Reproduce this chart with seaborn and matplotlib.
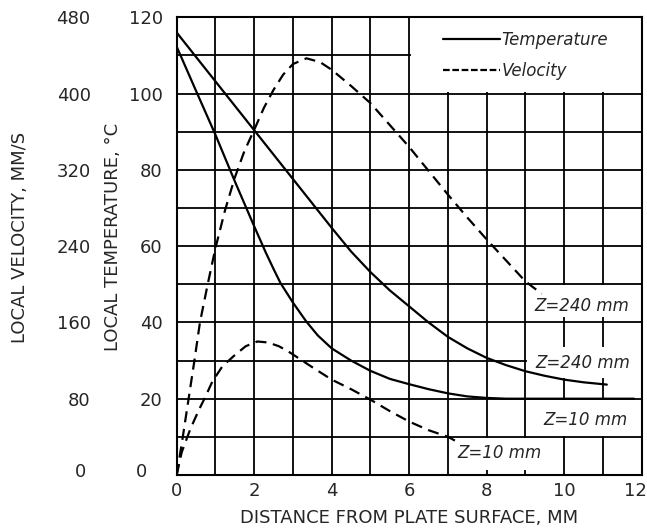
import matplotlib
matplotlib.use("Agg")
import matplotlib.pyplot as plt
import seaborn as sns
from matplotlib.lines import Line2D
from matplotlib.patches import Rectangle
from matplotlib.ticker import MultipleLocator
from matplotlib.transforms import ScaledTranslation

# ---------------- data ----------------
# Temperature, Z = 240 mm  (deg C)
t240_x = [0, 0.5, 1, 1.5, 2, 2.5, 3, 3.5, 4, 4.5, 5, 5.5, 6, 6.5, 7, 7.5, 8, 8.5, 9, 9.5, 10, 10.5, 11.1]
t240_y = [116, 109.6, 103.2, 96.8, 90.4, 84, 77.6, 71.2, 64.8, 58.6, 53.2, 48.4, 44.2, 40, 36.2, 33.2, 30.7, 28.8, 27.2, 26, 25, 24.3, 23.7]

# Temperature, Z = 10 mm  (deg C)
t10_x = [0, 0.5, 1, 1.5, 2, 2.3, 2.5, 2.68, 3, 3.34, 3.64, 4, 4.5, 5, 5.5, 6, 6.5, 7, 7.5, 8, 8.5, 9, 10, 11, 11.8]
t10_y = [112.3, 100.7, 89.2, 77, 65.2, 58.3, 54, 50.3, 45.2, 40.3, 36.6, 33.2, 30, 27.3, 25.2, 23.8, 22.5, 21.4, 20.6, 20.2, 20, 20, 20, 20, 20]

# Velocity, Z = 240 mm  (mm/s)
v240_x = [0, 0.15, 0.3, 0.45, 0.6, 0.8, 1.0, 1.25, 1.5, 1.75, 2, 2.25, 2.5, 2.75, 3.0, 3.35, 3.7, 4, 4.5, 5, 5.5, 6, 6.5, 7, 7.5, 8, 8.5, 9, 9.42]
v240_y = [0, 38, 78, 118, 160, 200, 238, 278, 312, 340, 362, 385, 404, 420, 431, 437, 433, 425, 408, 390, 367, 344, 319, 294, 270, 247, 225, 203, 190]

# Velocity, Z = 10 mm  (mm/s)
v10_x = [0, 0.13, 0.35, 0.57, 0.74, 0.92, 1.18, 1.48, 1.78, 2.08, 2.35, 2.64, 2.94, 3.5, 4, 4.5, 5, 5.5, 6, 6.5, 7, 7.23]
v10_y = [0, 24, 48, 68, 82, 98, 114, 125, 135, 140, 139, 135, 128, 113, 100, 90, 79, 67, 56, 47, 40, 35]

temp_ticks = [0, 20, 40, 60, 80, 100, 120]
vel_ticks = [0, 80, 160, 240, 320, 400, 480]
x_ticks = [0, 2, 4, 6, 8, 10, 12]
legend_labels = ["Temperature", "Velocity"]
curve_labels = ["Z=240 mm", "Z=240 mm", "Z=10 mm", "Z=10 mm"]

# ---------------- style ----------------
sns.set_style("white")
plt.rcParams["font.family"] = ["DejaVu Sans"]

fig = plt.figure(figsize=(6.47, 5.31), dpi=100)
ax = fig.add_axes([0.2731, 0.1055, 0.7187, 0.8619])

ax.set_xlim(0, 12)
ax.set_ylim(0, 120)
ax.set_xticks(x_ticks)
ax.set_yticks(temp_ticks)
ax.xaxis.set_minor_locator(MultipleLocator(1))
ax.yaxis.set_minor_locator(MultipleLocator(10))
ax.set_axisbelow(True)
ax.grid(which="both", color="black", linewidth=1.3)
ax.tick_params(which="both", length=0)
ax.tick_params(axis="y", pad=10, labelsize=13)
ax.tick_params(axis="x", pad=5, labelsize=13)
for s in ax.spines.values():
    s.set_color("black")
    s.set_linewidth(1.5)

# white areas (legend + curve labels)
for (x0, y0, x1, y1) in [(6.05, 100.3, 12, 120), (9.05, 41.5, 12, 49.7),
                         (9.05, 25.5, 12, 33.6), (9.05, 10.3, 12, 19.7),
                         (7.05, 1.3, 9.95, 9.7)]:
    ax.add_patch(Rectangle((x0, y0), x1 - x0, y1 - y0, facecolor="white",
                           edgecolor="none", zorder=1))

# temperature curves
sns.lineplot(x=t240_x, y=t240_y, ax=ax, color="black", linewidth=1.6,
             sort=False, estimator=None)
sns.lineplot(x=t10_x, y=t10_y, ax=ax, color="black", linewidth=1.6,
             sort=False, estimator=None)

ax.set_xlabel("DISTANCE FROM PLATE SURFACE, MM", fontsize=13)
ax.set_ylabel("LOCAL TEMPERATURE, °C", fontsize=13)
ax.xaxis.set_label_coords(0.5, -0.074)
ax.yaxis.set_label_coords(-0.118, 0.52)

# velocity axis
ax2 = ax.twinx()
ax2.set_ylim(0, 480)
ax2.set_yticks(vel_ticks)
ax2.yaxis.tick_left()
ax2.yaxis.set_label_position("left")
ax2.spines["left"].set_position(("outward", 52))
for s in ax2.spines.values():
    s.set_visible(False)
ax2.grid(False)
ax2.tick_params(length=0, pad=10, labelsize=13)

sns.lineplot(x=v240_x, y=v240_y, ax=ax2, color="black", linewidth=1.6,
             sort=False, estimator=None, linestyle=(0, (5, 3)))
sns.lineplot(x=v10_x, y=v10_y, ax=ax2, color="black", linewidth=1.6,
             sort=False, estimator=None, linestyle=(0, (5, 3)))
ax2.set_ylabel("LOCAL VELOCITY, MM/S", fontsize=13)
ax2.yaxis.set_label_coords(-0.318, 0.52)

# curve labels
lab_pos = [(10.45, 44.2), (10.47, 29.3), (10.56, 14.5), (8.34, 5.8)]
for txt, (lx, ly) in zip(curve_labels, lab_pos):
    ax.text(lx, ly, txt, ha="center", va="center", fontsize=12,
            style="italic", zorder=3)

# legend
handles = [Line2D([], [], color="black", linewidth=1.6),
           Line2D([], [], color="black", linewidth=1.6, linestyle=(0, (3, 1.2)))]
leg = ax.legend(handles, legend_labels, loc="center",
                bbox_to_anchor=(0.751, 0.9165), frameon=False,
                prop={"style": "italic", "size": 12}, handlelength=3.4,
                handletextpad=0.1, labelspacing=0.75)

# small label nudges as in the reference
fig.canvas.draw()
def nudge(lbl, dx_px, dy_px):
    lbl.set_transform(lbl.get_transform() +
                      ScaledTranslation(dx_px / 100, dy_px / 100, fig.dpi_scale_trans))

nudge(ax.xaxis.get_major_ticks()[-1].label1, -6, 0)
nudge(ax.yaxis.get_major_ticks()[0].label1, -16, 5)
nudge(ax2.yaxis.get_major_ticks()[0].label1, -4, 5)

fig.savefig("out.png", dpi=100)
